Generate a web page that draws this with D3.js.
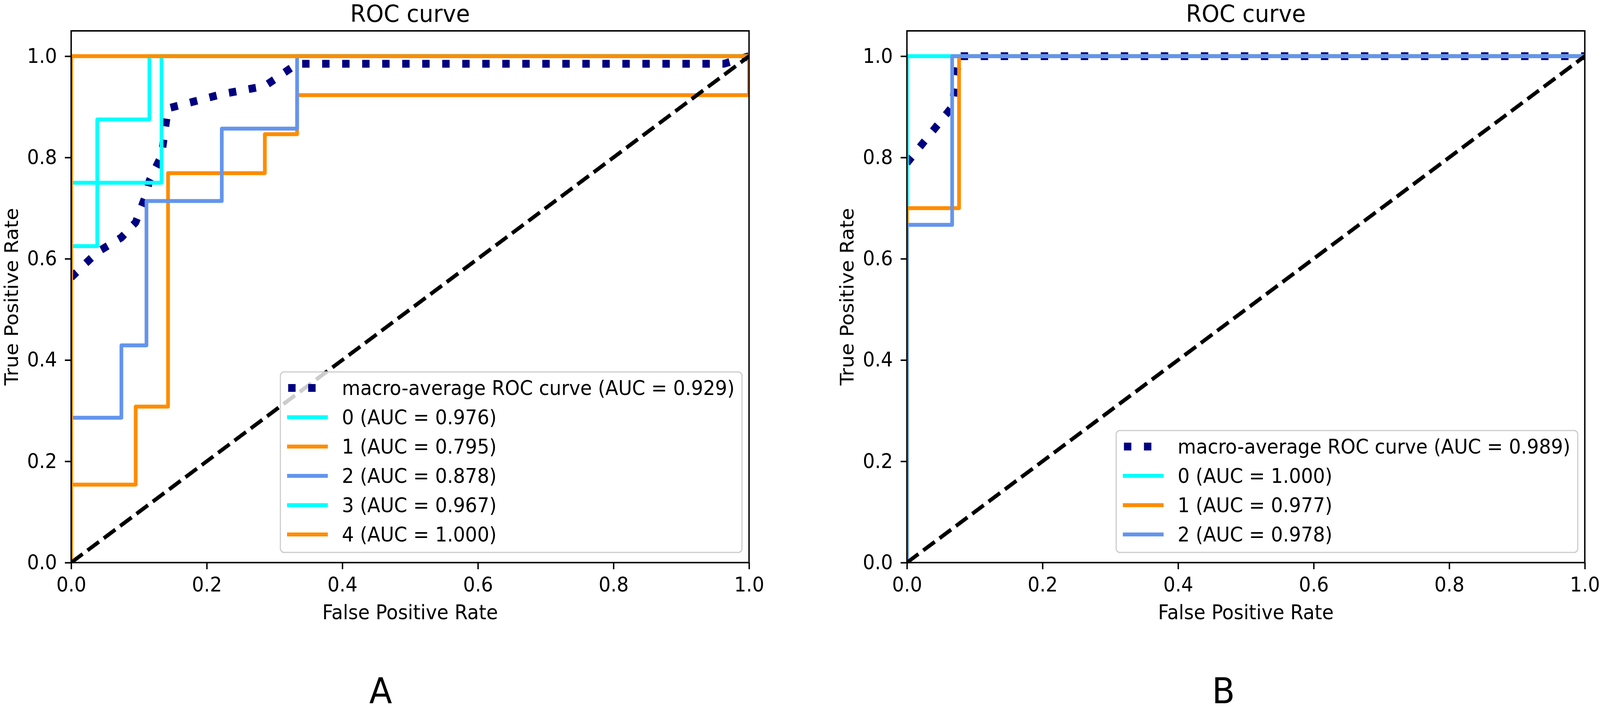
<!DOCTYPE html>
<html>
<head>
<meta charset="utf-8">
<title>ROC curves A and B</title>
<script src="https://cdnjs.cloudflare.com/ajax/libs/d3/7.8.5/d3.min.js"></script>
<style>
    html, body { margin: 0; padding: 0; background: #fff; overflow: hidden; }
    svg { display: block; width: 100vw; height: 100vh; font-family: "DejaVu Sans", sans-serif; }
</style>
</head>
<body>
<svg id="chart" viewBox="0 0 4317 1825" preserveAspectRatio="none"></svg>
<script>
// ---- data ----
const tickValues = [0.0, 0.2, 0.4, 0.6, 0.8, 1.0];
const titleText = "ROC curve";
const xLabelText = "False Positive Rate";
const yLabelText = "True Positive Rate";

// panel A
const classesA = ["0", "1", "2", "3", "4"];
const aucA = [0.976, 0.795, 0.878, 0.967, 1.000];
const macroAucA = 0.929;
const fprA0 = [0, 0, 0.0385, 0.0385, 0.1154, 0.1154, 1];
const tprA0 = [0, 0.625, 0.625, 0.875, 0.875, 1, 1];
const fprA1 = [0, 0, 0.0952, 0.0952, 0.1429, 0.1429, 0.2857, 0.2857, 0.3333, 0.3333, 1, 1];
const tprA1 = [0, 0.154, 0.154, 0.308, 0.308, 0.769, 0.769, 0.846, 0.846, 0.923, 0.923, 1];
const fprA2 = [0, 0, 0.0741, 0.0741, 0.1111, 0.1111, 0.2222, 0.2222, 0.3333, 0.3333, 1];
const tprA2 = [0, 0.286, 0.286, 0.429, 0.429, 0.714, 0.714, 0.857, 0.857, 1, 1];
const fprA3 = [0, 0, 0.1333, 0.1333, 1];
const tprA3 = [0, 0.75, 0.75, 1, 1];
const fprA4 = [0, 0, 1];
const tprA4 = [0, 1, 1];
const macroFprA = [0, 0.0385, 0.0741, 0.0952, 0.1111, 0.1154, 0.1333, 0.1429, 0.2222, 0.2857, 0.3333, 0.963, 1];
const macroTprA = [0.563, 0.613, 0.642, 0.672, 0.729, 0.754, 0.804, 0.897, 0.925, 0.941, 0.985, 0.985, 1];

// panel B
const classesB = ["0", "1", "2"];
const aucB = [1.000, 0.977, 0.978];
const macroAucB = 0.989;
const fprB0 = [0, 0, 1];
const tprB0 = [0, 1, 1];
const fprB1 = [0, 0, 0.0769, 0.0769, 1];
const tprB1 = [0, 0.7, 0.7, 1, 1];
const fprB2 = [0, 0, 0.0667, 0.0667, 1];
const tprB2 = [0, 0.667, 0.667, 1, 1];
const macroFprB = [0, 0.0667, 0.0769, 1];
const macroTprB = [0.789, 0.9, 1, 1];

const chanceFpr = [0, 1];
const chanceTpr = [0, 1];

const classColors = ["aqua", "darkorange", "cornflowerblue"];

// ---- layout ----
const svg = d3.select("#chart");
const plotW = 1829, plotTop = 79, plotBottom = 1440;
const fontSize = 51;

function zip(xs, ys) { return xs.map((v, i) => [v, ys[i]]); }

function drawPanel(opt) {
    const left = opt.left;
    const x = d3.scaleLinear().domain([0, 1]).range([left, left + plotW]);
    const y = d3.scaleLinear().domain([0, 1.05]).range([plotBottom, plotTop]);
    const g = svg.append("g");

    g.append("clipPath").attr("id", "clip" + opt.id)
        .append("rect")
        .attr("x", left).attr("y", plotTop)
        .attr("width", plotW).attr("height", plotBottom - plotTop);

    const line = d3.line().x(d => x(d[0])).y(d => y(d[1]));
    const plot = g.append("g").attr("clip-path", "url(#clip" + opt.id + ")");

    plot.append("path")
        .attr("d", line(zip(opt.macroFpr, opt.macroTpr)))
        .attr("fill", "none").attr("stroke", "navy")
        .attr("stroke-width", 20).attr("stroke-dasharray", "20,34")
        .attr("stroke-linejoin", "round");

    opt.curves.forEach((c, i) => {
        plot.append("path")
            .attr("d", line(zip(c[0], c[1])))
            .attr("fill", "none")
            .attr("stroke", classColors[i % 3])
            .attr("stroke-width", 10)
            .attr("stroke-linejoin", "round")
            .attr("stroke-linecap", "square");
    });

    plot.append("path")
        .attr("d", line(zip(chanceFpr, chanceTpr)))
        .attr("fill", "none").attr("stroke", "black")
        .attr("stroke-width", 10).attr("stroke-dasharray", "38,16");

    // axes
    const xAxis = g.append("g").attr("transform", "translate(0," + plotBottom + ")")
        .call(d3.axisBottom(x).tickValues(tickValues).tickSize(17).tickPadding(21).tickFormat(d3.format(".1f")));
    const yAxis = g.append("g").attr("transform", "translate(" + left + ",0)")
        .call(d3.axisLeft(y).tickValues(tickValues).tickSize(17).tickPadding(21).tickFormat(d3.format(".1f")));
    [xAxis, yAxis].forEach(a => {
        a.select(".domain").remove();
        a.attr("font-size", fontSize).attr("font-family", "DejaVu Sans");
        a.selectAll("line").attr("stroke", "black").attr("stroke-width", 3.8);
        a.selectAll("text").attr("fill", "black");
    });

    g.append("rect")
        .attr("x", left).attr("y", plotTop)
        .attr("width", plotW).attr("height", plotBottom - plotTop)
        .attr("fill", "none").attr("stroke", "black").attr("stroke-width", 3.8);

    const cx = left + plotW / 2;
    g.append("text").attr("x", cx).attr("y", 56)
        .attr("text-anchor", "middle").attr("font-size", 61).text(titleText);
    g.append("text").attr("x", cx).attr("y", 1585)
        .attr("text-anchor", "middle").attr("font-size", fontSize).text(xLabelText);
    g.append("text")
        .attr("transform", "translate(" + (left - 144) + "," + ((plotTop + plotBottom) / 2) + ") rotate(-90)")
        .attr("text-anchor", "middle").attr("font-size", fontSize).text(yLabelText);

    g.append("text").attr("x", opt.tagX).attr("y", 1800)
        .attr("text-anchor", "middle").attr("font-size", 90).text(opt.tag);

    // legend
    const labels = ["macro-average ROC curve (AUC = " + d3.format(".3f")(opt.macroAuc) + ")"]
        .concat(opt.classes.map((c, i) => c + " (AUC = " + d3.format(".3f")(opt.auc[i]) + ")"));
    const rowGap = 75;
    const lastY = plotBottom - 72;
    const firstY = lastY - (labels.length - 1) * rowGap;
    const right = left + plotW - 19;
    const leg = g.append("g");
    const frame = leg.append("rect");
    const texts = leg.selectAll("text.lab").data(labels).enter().append("text")
        .attr("class", "lab")
        .attr("y", (d, i) => firstY + i * rowGap)
        .attr("dy", "0.36em")
        .attr("font-size", fontSize)
        .text(d => d);
    let maxW = 0;
    texts.each(function () { maxW = Math.max(maxW, this.getComputedTextLength()); });
    const boxLeft = right - (166 + maxW + 20);
    texts.attr("x", boxLeft + 166);
    frame.attr("x", boxLeft).attr("y", firstY - 41)
        .attr("width", right - boxLeft).attr("height", lastY + 46 - (firstY - 41))
        .attr("rx", 10)
        .attr("fill", "white").attr("fill-opacity", 0.8)
        .attr("stroke", "#cccccc").attr("stroke-width", 3);
    leg.append("line")
        .attr("x1", boxLeft + 21).attr("x2", boxLeft + 121)
        .attr("y1", firstY).attr("y2", firstY)
        .attr("stroke", "navy").attr("stroke-width", 20)
        .attr("stroke-dasharray", "20,34");
    opt.classes.forEach((c, i) => {
        const yy = firstY + (i + 1) * rowGap;
        leg.append("line")
            .attr("x1", boxLeft + 18).attr("x2", boxLeft + 128)
            .attr("y1", yy).attr("y2", yy)
            .attr("stroke", classColors[i % 3]).attr("stroke-width", 10);
    });
}

drawPanel({
    id: "A", left: 192, tag: "A", tagX: 1027,
    classes: classesA, auc: aucA, macroAuc: macroAucA,
    macroFpr: macroFprA, macroTpr: macroTprA,
    curves: [[fprA0, tprA0], [fprA1, tprA1], [fprA2, tprA2], [fprA3, tprA3], [fprA4, tprA4]]
});

drawPanel({
    id: "B", left: 2447, tag: "B", tagX: 3301,
    classes: classesB, auc: aucB, macroAuc: macroAucB,
    macroFpr: macroFprB, macroTpr: macroTprB,
    curves: [[fprB0, tprB0], [fprB1, tprB1], [fprB2, tprB2]]
});
</script>
</body>
</html>
